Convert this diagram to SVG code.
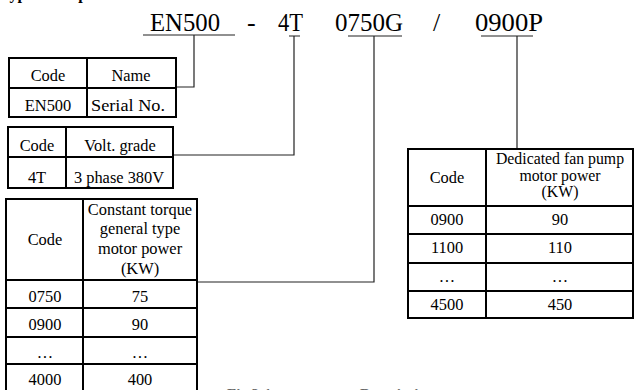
<svg xmlns="http://www.w3.org/2000/svg" width="635" height="390" viewBox="0 0 635 390" font-family="'Liberation Serif','Times New Roman',serif">
<style>
text{font-family:"Liberation Serif","Times New Roman",serif;fill:#000}
.t{font-size:16.4px;text-anchor:middle}
.s{font-size:15.8px}
.h{font-size:26px}
.b{fill:#fff;stroke:#000;stroke-width:2}
.g{stroke:#000;stroke-width:2;fill:none}
.c{stroke:#222;stroke-width:1.2;fill:none}
.cap{font-size:15px;font-weight:bold;fill:#666}
</style>
<rect width="635" height="390" fill="#fff"/>
<text x="0" y="-1" class="cap" style="fill:#000;font-size:16px">Type description:</text>
<g id="model">
<text class="h" x="150" y="31" textLength="70" lengthAdjust="spacingAndGlyphs">EN500</text>
<text class="h" x="247" y="31">-</text>
<text class="h" x="278" y="31" textLength="25" lengthAdjust="spacingAndGlyphs">4T</text>
<text class="h" x="335" y="31" textLength="68" lengthAdjust="spacingAndGlyphs">0750G</text>
<text class="h" x="433" y="31">/</text>
<text class="h" x="475" y="31" textLength="68" lengthAdjust="spacingAndGlyphs">0900P</text>
</g>
<g id="connectors">
<path class="c" d="M143 35H235M194 35V87H176"/>
<path class="c" d="M289 36H300M294 36V155H173"/>
<path class="c" d="M348 36H402M374 36V282H197"/>
<path class="c" d="M481 36H533M517 36V149"/>
</g>
<g id="table-name">
<rect class="b" x="9" y="58" width="167" height="59"/>
<path class="g" d="M9 88H176M87 58V117"/>
<text class="t" x="48" y="81">Code</text>
<text class="t" x="131" y="81">Name</text>
<text class="t" x="48" y="111">EN500</text>
<text class="t" x="128" y="111" textLength="74" lengthAdjust="spacingAndGlyphs">Serial No.</text>
</g>
<g id="table-volt">
<rect class="b" x="8" y="127" width="165" height="61"/>
<path class="g" d="M8 157H173M66 127V188"/>
<text class="t" x="37" y="151">Code</text>
<text class="t" x="120" y="151">Volt. grade</text>
<text class="t" x="37" y="183">4T</text>
<text class="t" x="119" y="183">3 phase 380V</text>
</g>
<g id="table-general">
<rect class="b" x="6" y="199" width="191" height="210"/>
<path class="g" d="M6 280H197M6 308H197M6 337H197M6 364H197M83 199V409"/>
<text class="t" x="45" y="245">Code</text>
<text class="t" x="140" y="215">Constant torque</text>
<text class="t" x="140" y="234">general type</text>
<text class="t" x="140" y="254">motor power</text>
<text class="t" x="140" y="274">(KW)</text>
<text class="t" x="45" y="302">0750</text>
<text class="t" x="140" y="302">75</text>
<text class="t" x="45" y="330">0900</text>
<text class="t" x="140" y="330">90</text>
<text class="t" x="45" y="358">…</text>
<text class="t" x="140" y="358">…</text>
<text class="t" x="45" y="385">4000</text>
<text class="t" x="140" y="385">400</text>
</g>
<g id="table-fan">
<rect class="b" x="408" y="149" width="225" height="169"/>
<path class="g" d="M408 206H633M408 234H633M408 263H633M408 291H633M486 149V318"/>
<text class="t" x="447" y="183">Code</text>
<text class="t s" x="560" y="164">Dedicated fan pump</text>
<text class="t s" x="560" y="180.5">motor power</text>
<text class="t s" x="560" y="197">(KW)</text>
<text class="t" x="447" y="225">0900</text>
<text class="t" x="560" y="225">90</text>
<text class="t" x="447" y="253">1100</text>
<text class="t" x="560" y="253">110</text>
<text class="t" x="447" y="282">…</text>
<text class="t" x="560" y="282">…</text>
<text class="t" x="447" y="310">4500</text>
<text class="t" x="560" y="310">450</text>
</g>
<text class="cap" x="227" y="399">Fig 2-1</text>
<text class="cap" x="360" y="399">Description</text>
</svg>
